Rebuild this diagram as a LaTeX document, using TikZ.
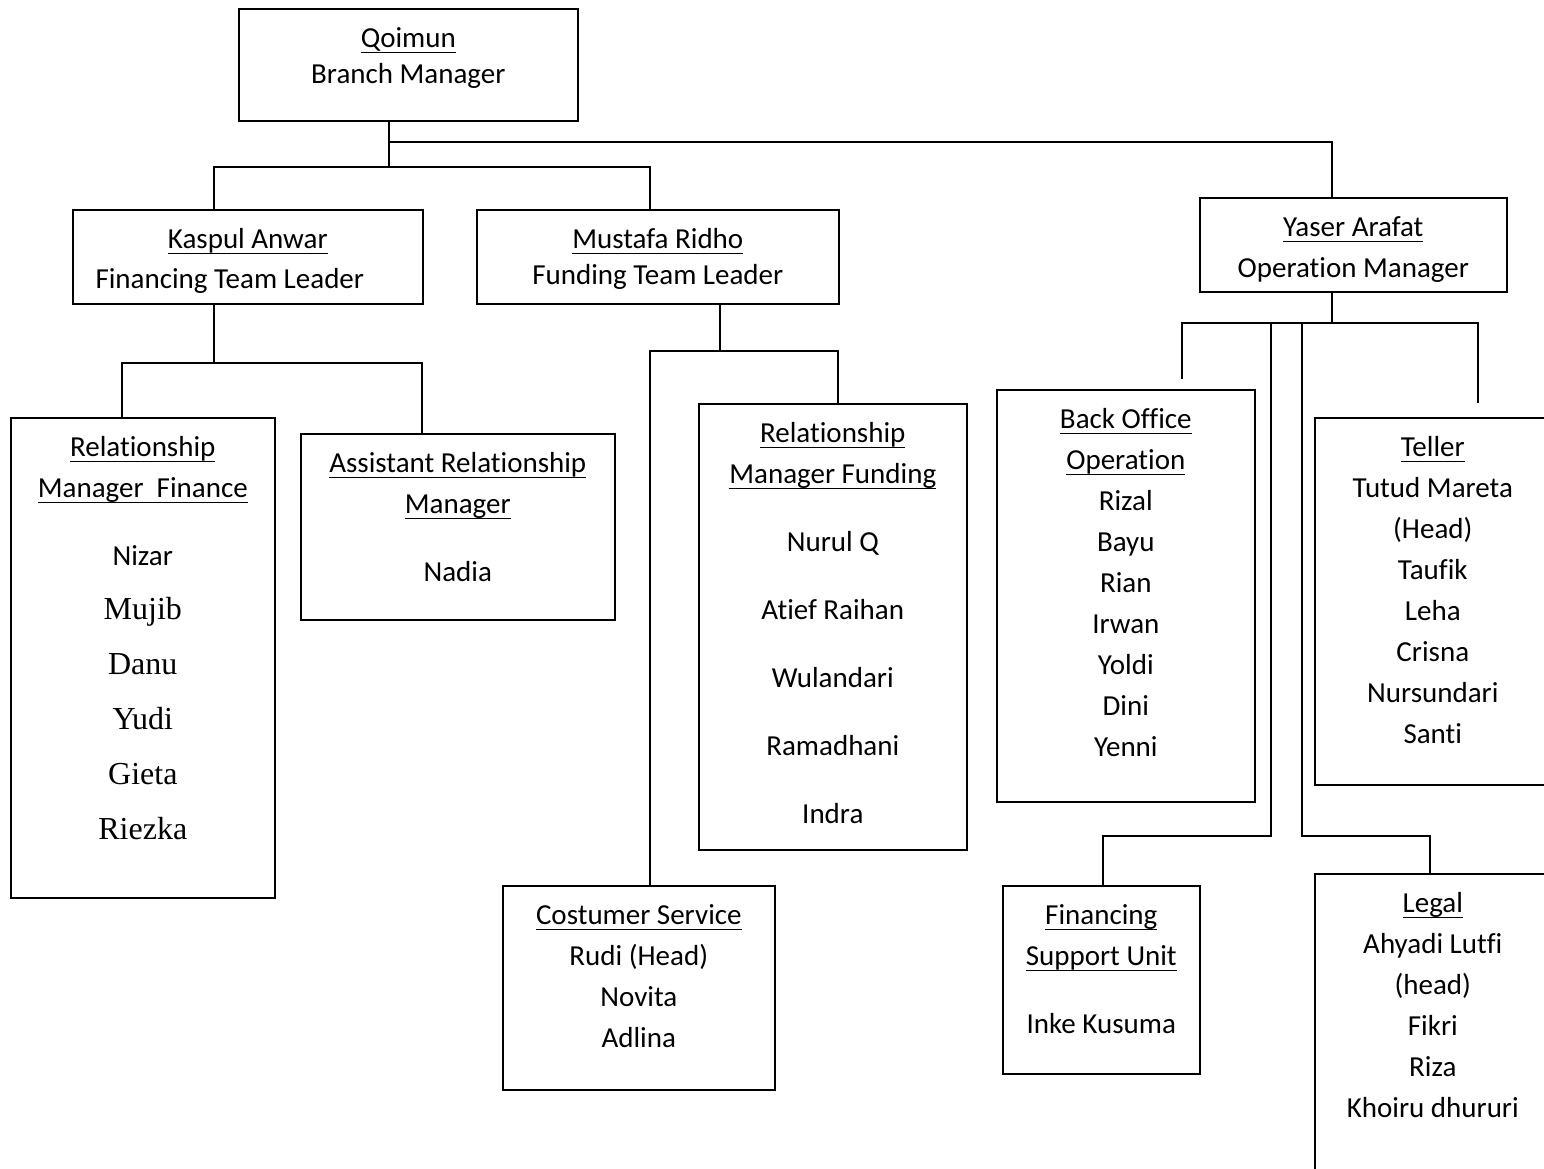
\documentclass[tikz,border=0pt]{standalone}
\usepackage{fontspec}
\setmainfont{Carlito}[RawFeature={-liga;-clig;-dlig}]
\newfontfamily\timesfont{Liberation Serif}
\usepackage{tikz}
\newcommand{\bodyfont}{\fontsize{29}{41}\selectfont}
\newcommand{\serifname}[1]{{\timesfont\fontsize{32}{41}\selectfont #1}}
\newcommand{\undl}[1]{\leavevmode\setbox0\hbox{#1}\rlap{\rule[-5.6pt]{\wd0}{1.8pt}}\box0}
\newcommand{\boxtext}[3]{\parbox[t][#2pt][t]{#1pt}{\centering\vspace*{10.3pt}\strut #3}}

\begin{document}
\begin{tikzpicture}[
		x=1pt, y=-1pt,
		box/.style={draw, line width=1.6pt, inner sep=0pt, anchor=north west, font=\bodyfont},
		link/.style={line width=1.5pt}
	]
	\useasboundingbox (0,0) rectangle (1544,1168);
	\node[box] (bm) at (238,8) {\boxtext{339}{112}{\undl{Qoimun}\\[-5pt]Branch Manager}};
	\node[box] (ftl) at (72,209) {\boxtext{350}{94}{\undl{Kaspul Anwar}\\[-1pt]Financing Team Leader\kern36pt}};
	\node[box] (fun) at (476,209) {\boxtext{362}{94}{\undl{Mustafa Ridho}\\[-5pt]Funding Team Leader}};
	\node[box] (om) at (1199,197) {\boxtext{307}{94}{\undl{Yaser Arafat}\\Operation Manager}};
	\node[box] (rmf) at (10,417) {\boxtext{264}{480}{\undl{Relationship}\\\undl{Manager\ \ Finance}\\[27pt]Nizar\\[13pt]\serifname{Mujib}\\[14pt]\serifname{Danu}\\[14pt]\serifname{Yudi}\\[14pt]\serifname{Gieta}\\[14pt]\serifname{Riezka}}};
	\node[box] (arm) at (300,433) {\boxtext{314}{186}{\undl{Assistant Relationship}\\\undl{Manager}\\[27pt]Nadia}};
	\node[box] (rmfd) at (698,403) {\boxtext{268}{446}{\undl{Relationship}\\\undl{Manager Funding}\\[27pt]Nurul Q\\[27pt]Atief Raihan\\[27pt]Wulandari\\[27pt]Ramadhani\\[27pt]Indra}};
	\node[box] (cs) at (502,885) {\boxtext{272}{204}{\undl{Costumer Service}\\Rudi (Head)\\Novita\\Adlina}};
	\node[box] (boo) at (996,389) {\boxtext{258}{412}{\undl{Back Office}\\\undl{Operation}\\Rizal\\Bayu\\Rian\\Irwan\\Yoldi\\Dini\\Yenni}};
	\node[box] (tel) at (1314,417) {\boxtext{236}{367}{\undl{Teller}\\Tutud Mareta\\(Head)\\Taufik\\Leha\\Crisna\\Nursundari\\Santi}};
	\node[box] (fsu) at (1002,885) {\boxtext{197}{188}{\undl{Financing}\\\undl{Support Unit}\\[27pt]Inke Kusuma}};
	\node[box] (legal) at (1314,873) {\boxtext{236}{320}{\undl{Legal}\\Ahyadi Lutfi\\(head)\\Fikri\\Riza\\Khoiru dhururi}};
	\coordinate (t0) at (389,142);
	\coordinate (t1) at (389,167);
	\coordinate (t2) at (1332,142);
	\coordinate (t3) at (214,167);
	\coordinate (t4) at (650,167);
	\coordinate (f0) at (214,363);
	\coordinate (f1) at (122,363);
	\coordinate (f2) at (422,363);
	\coordinate (g0) at (720,351);
	\coordinate (g1) at (650,351);
	\coordinate (g2) at (838,351);
	\coordinate (h0) at (1332,323);
	\coordinate (h1) at (1182,323);
	\coordinate (h2) at (1478,323);
	\coordinate (b0) at (1182,379);
	\coordinate (b1) at (1478,403);
	\coordinate (h3) at (1271,323);
	\coordinate (h4) at (1271,836);
	\coordinate (h5) at (1103,836);
	\coordinate (h6) at (1302,323);
	\coordinate (h7) at (1302,836);
	\coordinate (h8) at (1430,836);
	\draw[link] (bm.south -| t0) -- (t1);
	\draw[link] (t0) -- (t2) -- (om.north -| t2);
	\draw[link] (ftl.north -| t3) -- (t3) -- (t4) -- (fun.north -| t4);
	\draw[link] (ftl.south -| f0) -- (f0);
	\draw[link] (rmf.north -| f1) -- (f1) -- (f2) -- (arm.north -| f2);
	\draw[link] (fun.south -| g0) -- (g0);
	\draw[link] (cs.north -| g1) -- (g1) -- (g2) -- (rmfd.north -| g2);
	\draw[link] (om.south -| h0) -- (h0);
	\draw[link] (b0) -- (h1) -- (h2) -- (b1);
	\draw[link] (h3) -- (h4) -- (h5) -- (fsu.north -| h5);
	\draw[link] (h6) -- (h7) -- (h8) -- (legal.north -| h8);
\end{tikzpicture}
\end{document}
